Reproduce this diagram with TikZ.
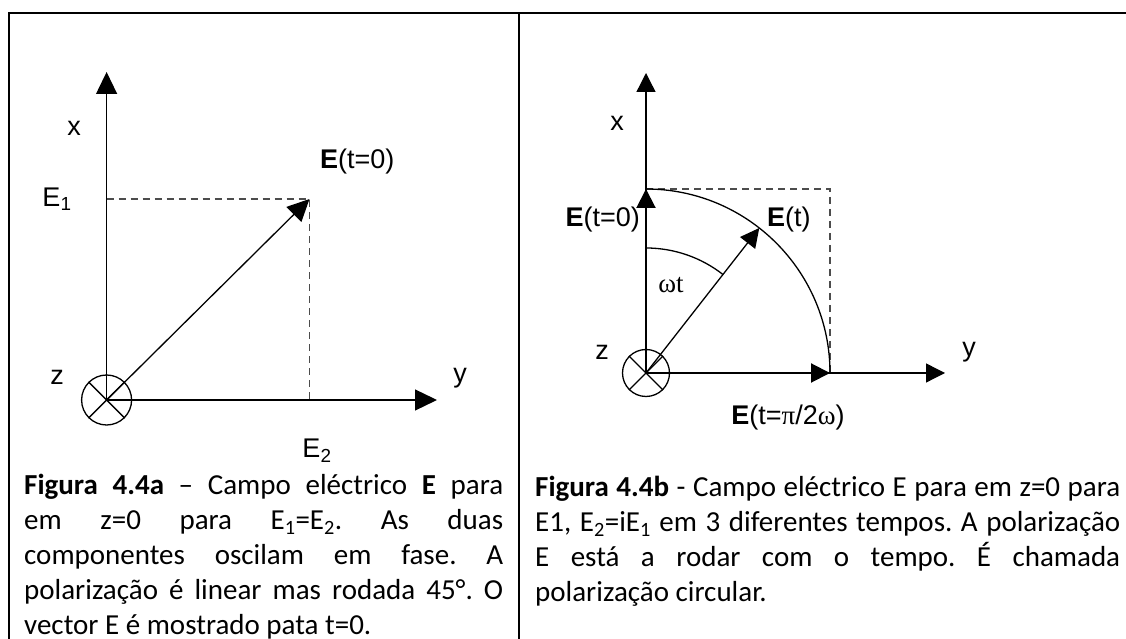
\documentclass[tikz,border=0pt]{standalone}
\usepackage{fontspec}
\setmainfont{Carlito}
\newfontfamily\figfont{Liberation Sans}
\newfontfamily\symfont{Liberation Serif}
\usetikzlibrary{positioning,arrows.meta,calc}
\frenchspacing
\tikzset{
  axisa/.style={-{Triangle[length=22pt,width=21pt]},line width=1.3pt},
  axisb/.style={-{Triangle[length=19pt,width=19pt]},line width=1.3pt},
  vecb/.style={-{Triangle[length=19pt,width=19pt]},line width=2pt},
  guide/.style={dash pattern=on 7pt off 5pt,line width=1.3pt,black!70},
  lbl/.style={font=\figfont\fontsize{27}{32}\selectfont,inner sep=0pt},
  zmark/.style={circle,draw,line width=1.3pt,inner sep=0pt},
  caption/.style={anchor=base west,inner sep=0pt,align=justify,font=\fontsize{29}{35}\selectfont}
}

\begin{document}
\begin{tikzpicture}[x=1pt,y=1pt]
  \useasboundingbox (0,0) rectangle (1126,639);
  % frame
  \draw[line width=2pt] (8.6,0) -- (8.6,626) -- (1126,626);
  \draw[line width=2pt] (519,0) -- (519,626);

  % left picture: linear polarisation
  \coordinate (oa) at (106.6,239);
  \coordinate (xtipa) at (106.6,567);
  \coordinate (ytipa) at (437,239);
  \coordinate (pa) at (309.5,440);
  \coordinate (e1a) at (106.6,440);
  \coordinate (e2a) at (309.5,239);
  \node[zmark,minimum size=50pt] (za0) at (oa) {};
  \draw[line width=1.3pt] (za0.45) -- (za0.225);
  \draw[line width=1.3pt] (za0.135) -- (za0.315);
  \draw[guide] (e1a) -- (pa) -- (e2a);
  \draw[axisa] (oa) -- (xtipa);
  \draw[axisa] (oa) -- (ytipa);
  \draw[axisa] (oa) -- (pa);
  \node[lbl] (xa) at (74,511) {x};
  \node[lbl] (ya) at (460,261) {y};
  \node[lbl] (za) at (57,262) {z};
  \node[lbl] (e1) at (57,440) {E\textsubscript{1}};
  \node[lbl] (e2) at (317,188) {E\textsubscript{2}};
  \node[lbl,anchor=west] (ea) at (320,477) {\textbf{E}(t=0)};

  % right picture: circular polarisation
  \coordinate (ob) at (646,266);
  \coordinate (xtipb) at (646,566);
  \coordinate (ytipb) at (945,266);
  \coordinate (topb) at (646,450);
  \coordinate (rgtb) at (830,266);
  \coordinate (cornb) at (830,450);
  \coordinate (etb) at ($(ob)+(52:184)$);
  \node[zmark,minimum size=47pt] (zb0) at (ob) {};
  \draw[line width=1.3pt] (zb0.45) -- (zb0.225);
  \draw[line width=1.3pt] (zb0.135) -- (zb0.315);
  \draw[guide] (topb) -- (cornb) -- (rgtb);
  \draw[line width=1.3pt] (topb) arc[start angle=90,end angle=0,radius=184];
  \draw[line width=1.3pt] ($(ob)+(90:125)$) arc[start angle=90,end angle=52,radius=125];
  \draw[axisb] (ob) -- (xtipb);
  \draw[axisb] (ob) -- (ytipb);
  \draw[vecb] (ob) -- (topb);
  \draw[vecb] (ob) -- (rgtb);
  \draw[axisb] (ob) -- (etb);
  \node[lbl] (xb) at (617,516) {x};
  \node[lbl] (yb) at (969,287) {y};
  \node[lbl] (zb) at (602,287) {z};
  \node[lbl] (wt) at (671,354) {\symfont ωt};
  \node[lbl,anchor=east] (eb0) at (640,419) {\textbf{E}(t=0)};
  \node[lbl,anchor=west] (ebt) at (767,419) {\textbf{E}(t)};
  \node[lbl] (ebp) at (788,221) {\textbf{E}(t={\symfont π}/2{\symfont ω})};

  % captions
  \node[caption,text width=479pt] (capa) at (24,144) {\textbf{Figura 4.4a} – Campo eléctrico \textbf{E} para\linebreak
    em z=0 para E\textsubscript{1}=E\textsubscript{2}. As duas\linebreak
    componentes oscilam em fase. A\linebreak
    polarização é linear mas rodada 45°. O\linebreak
    vector E é mostrado pata t=0.};
  \node[caption,text width=585pt] (capb) at (535,142) {\textbf{Figura 4.4b} - Campo eléctrico E para em z=0 para\linebreak
    E1, E\textsubscript{2}=iE\textsubscript{1} em 3 diferentes tempos. A polarização\linebreak
    E está a rodar com o tempo. É chamada\linebreak
    polarização circular.};
\end{tikzpicture}
\end{document}
